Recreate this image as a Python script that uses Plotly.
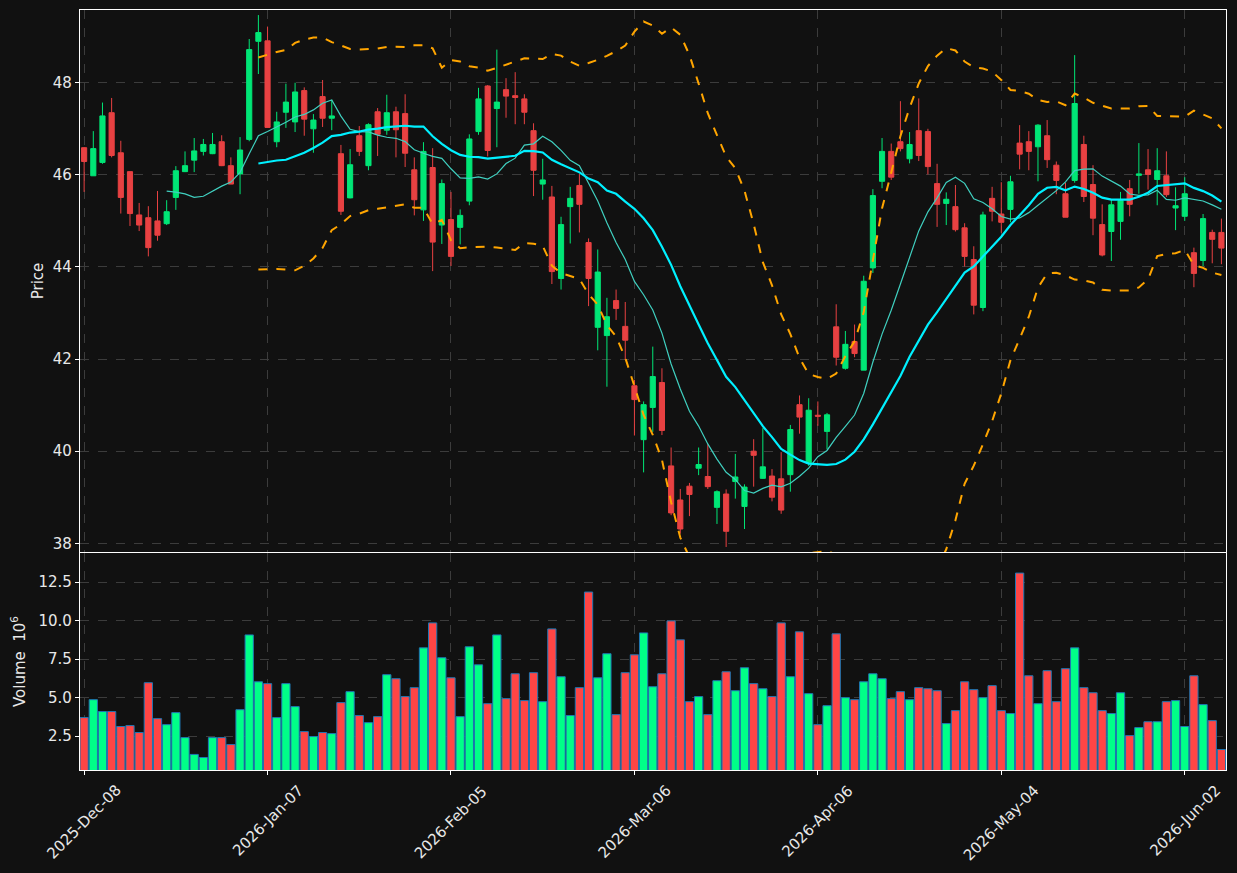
import numpy as np
import pandas as pd
import plotly.graph_objects as go

# ---- data ----
tick_labels = ["2025-Dec-08", "2026-Jan-07", "2026-Feb-05", "2026-Mar-06",
               "2026-Apr-06", "2026-May-04", "2026-Jun-02"]
tick_every = 20

opens = [46.59, 45.98, 46.27, 47.35, 46.48, 46.07, 45.13, 45.07, 45.00, 44.94,
         45.51, 46.07, 46.32, 46.51, 46.46, 46.72, 46.20, 46.02, 46.77, 48.90,
         48.91, 46.72, 47.36, 47.15, 47.83, 47.00, 47.70, 47.23, 46.46, 45.50,
         46.85, 46.20, 47.37, 46.97, 47.37, 47.33, 46.11, 45.24, 46.16, 44.91,
         45.03, 44.86, 45.43, 46.94, 47.93, 47.44, 47.85, 47.72, 47.65, 46.96,
         45.80, 45.52, 43.75, 45.31, 45.77, 44.53, 42.69, 42.51, 43.27, 42.71,
         41.42, 40.25, 40.95, 41.49, 39.68, 38.94, 39.24, 39.63, 39.45, 38.78,
         39.07, 39.34, 38.80, 40.00, 39.41, 39.46, 39.40, 39.49, 41.01, 39.74,
         40.78, 40.43, 42.70, 41.80, 42.38, 41.76, 43.98, 45.86, 46.51, 46.72,
         46.35, 46.96, 46.94, 45.81, 45.38, 45.31, 44.85, 44.16, 43.12, 45.49,
         45.15, 45.25, 46.69, 46.72, 46.61, 46.85, 46.21, 45.59, 45.88, 46.66,
         45.79, 44.92, 44.77, 44.99, 45.70, 45.99, 46.11, 45.90, 45.98, 45.28,
         45.10, 44.31, 44.14, 44.75, 44.75]
highs = [46.60, 46.95, 47.57, 47.67, 46.74, 46.07, 45.39, 45.32, 45.65, 45.45,
         46.19, 46.51, 46.80, 46.78, 46.91, 46.86, 46.38, 46.82, 48.95, 49.47,
         49.22, 47.37, 47.98, 48.00, 47.90, 47.32, 48.06, 47.63, 46.65, 46.56,
         47.06, 47.12, 47.45, 47.74, 47.48, 47.75, 46.38, 46.71, 46.58, 45.90,
         45.63, 45.25, 46.88, 47.89, 47.95, 48.72, 48.10, 48.23, 47.75, 47.12,
         46.35, 45.76, 45.09, 45.74, 46.02, 44.62, 44.38, 43.33, 43.51, 43.24,
         41.55, 41.08, 42.27, 41.80, 40.08, 39.18, 39.31, 40.08, 40.15, 39.15,
         39.17, 39.94, 39.28, 40.26, 40.50, 39.61, 39.98, 40.57, 41.21, 41.15,
         41.08, 40.83, 43.19, 42.61, 42.75, 43.81, 45.69, 46.80, 46.68, 47.60,
         46.93, 47.66, 47.00, 46.24, 45.62, 45.78, 44.95, 44.45, 45.20, 45.74,
         45.84, 45.98, 47.08, 46.95, 47.10, 47.19, 46.29, 45.83, 48.60, 46.85,
         46.21, 45.36, 45.46, 45.63, 45.89, 46.69, 46.56, 46.58, 46.51, 45.73,
         45.95, 44.42, 45.15, 44.81, 45.05]
lows = [45.63, 45.98, 46.24, 46.38, 45.16, 44.89, 44.78, 44.23, 44.57, 44.91,
        45.24, 46.06, 46.06, 46.42, 46.45, 46.19, 45.80, 45.58, 46.73, 48.19,
        47.03, 46.60, 47.02, 46.93, 46.85, 46.48, 47.04, 46.97, 45.13, 45.49,
        46.41, 46.10, 46.41, 46.87, 46.38, 46.17, 45.12, 45.00, 43.91, 44.50,
        44.02, 44.49, 45.34, 46.87, 46.40, 46.60, 47.24, 47.10, 47.10, 45.54,
        45.46, 43.63, 43.51, 44.51, 44.75, 43.15, 42.19, 41.40, 42.85, 41.98,
        40.34, 39.54, 40.42, 40.35, 38.61, 38.21, 38.59, 39.48, 39.18, 38.42,
        37.92, 38.97, 38.31, 39.23, 39.40, 38.91, 38.64, 39.12, 40.38, 39.68,
        40.55, 40.04, 41.86, 41.77, 42.04, 41.76, 43.87, 45.71, 45.89, 46.51,
        46.25, 46.30, 46.01, 44.87, 44.91, 44.77, 44.01, 42.97, 43.04, 44.99,
        44.74, 44.97, 46.12, 46.10, 45.86, 46.15, 45.58, 45.08, 45.83, 45.41,
        44.69, 44.23, 44.13, 44.59, 45.10, 45.59, 45.68, 45.34, 45.52, 44.80,
        45.00, 43.56, 44.02, 44.08, 44.06]
closes = [46.29, 46.57, 47.28, 46.42, 45.51, 45.16, 44.91, 44.42, 44.69, 45.20,
          46.09, 46.20, 46.52, 46.66, 46.66, 46.20, 45.80, 46.54, 48.72, 49.09,
          47.03, 47.15, 47.58, 47.80, 47.21, 47.19, 47.23, 47.28, 45.21, 46.22,
          46.51, 47.09, 46.88, 47.35, 46.98, 46.47, 45.46, 46.51, 44.54, 45.81,
          44.23, 45.12, 46.78, 47.65, 46.53, 47.58, 47.71, 47.68, 47.36, 46.10,
          45.89, 43.90, 44.92, 45.49, 45.36, 43.75, 43.89, 42.92, 43.10, 42.41,
          41.12, 41.01, 41.62, 40.45, 38.66, 38.31, 39.06, 39.71, 39.23, 39.12,
          38.26, 39.44, 39.22, 39.91, 39.66, 39.00, 38.72, 40.47, 40.74, 40.89,
          40.76, 40.79, 42.04, 42.32, 42.12, 43.69, 45.55, 46.51, 45.95, 46.57,
          46.66, 46.42, 46.18, 45.36, 45.47, 44.81, 44.23, 43.17, 45.13, 45.21,
          44.97, 45.85, 46.45, 46.51, 47.08, 46.33, 45.88, 45.08, 47.55, 45.53,
          45.06, 44.26, 45.35, 45.44, 45.36, 46.02, 46.01, 46.09, 45.57, 45.33,
          45.59, 43.86, 45.05, 44.60, 44.41]
volumes_m = [3.71, 4.87, 4.10, 4.10, 3.13, 3.19, 2.74, 5.97, 3.64, 3.25,
             4.03, 2.41, 1.32, 1.12, 2.41, 2.41, 1.96, 4.22, 9.07, 6.03,
             5.91, 3.71, 5.91, 4.42, 2.80, 2.48, 2.74, 2.67, 4.68, 5.39,
             3.84, 3.38, 3.77, 6.49, 6.23, 5.07, 5.65, 8.23, 9.85, 7.59,
             6.29, 3.77, 8.30, 7.13, 4.61, 9.07, 4.94, 6.55, 4.81, 6.62,
             4.74, 9.46, 6.36, 3.84, 5.65, 11.85, 6.29, 7.85, 3.90, 6.62,
             7.78, 9.20, 5.71, 6.55, 9.98, 8.75, 4.74, 5.07, 3.90, 6.10,
             6.68, 5.45, 6.94, 5.91, 5.58, 5.07, 9.85, 6.36, 9.27, 5.26,
             3.25, 4.48, 9.14, 5.00, 4.87, 6.03, 6.55, 6.23, 4.94, 5.39,
             4.87, 5.65, 5.58, 5.45, 3.32, 4.16, 6.03, 5.52, 5.00, 5.78,
             4.16, 3.97, 13.08, 6.42, 4.61, 6.75, 4.74, 6.88, 8.23, 5.65,
             5.32, 4.16, 3.97, 5.32, 2.54, 3.06, 3.44, 3.44, 4.74, 4.81,
             3.13, 6.42, 4.55, 3.51, 1.64]

# ---- derived indicators (as in the original: SMA10, SMA20, Bollinger 20/2) ----
n = len(closes)
x = np.arange(n)
cs = pd.Series(closes)
ma10 = cs.rolling(10).mean()
ma20 = cs.rolling(20).mean()
sd20 = cs.rolling(20).std(ddof=0)
bb_up = ma20 + 2 * sd20
bb_lo = ma20 - 2 * sd20

UP_C = "#00e676"
DN_C = "#e84142"
VUP_C = "#00ff88"
VDN_C = "#ff4545"
BG = "#111111"
GRID = "#3c3c3c"
TXT = "#e8e8e8"
FONT = "DejaVu Sans"

vol_colors = [VUP_C if c >= o else VDN_C for o, c in zip(opens, closes)]

fig = go.Figure()

fig.add_trace(go.Candlestick(
    x=x, open=opens, high=highs, low=lows, close=closes,
    increasing=dict(fillcolor=UP_C, line=dict(color=UP_C, width=1)),
    decreasing=dict(fillcolor=DN_C, line=dict(color=DN_C, width=1)),
    whiskerwidth=0, xaxis="x", yaxis="y", showlegend=False, hoverinfo="skip",
))
fig.add_trace(go.Scatter(x=x, y=bb_up, mode="lines",
                         line=dict(color="#ffa500", width=2, dash="dash"),
                         xaxis="x", yaxis="y", showlegend=False, hoverinfo="skip"))
fig.add_trace(go.Scatter(x=x, y=bb_lo, mode="lines",
                         line=dict(color="#ffa500", width=2, dash="dash"),
                         xaxis="x", yaxis="y", showlegend=False, hoverinfo="skip"))
fig.add_trace(go.Scatter(x=x, y=ma10, mode="lines",
                         line=dict(color="#40d0c0", width=1.2),
                         xaxis="x", yaxis="y", showlegend=False, hoverinfo="skip"))
fig.add_trace(go.Scatter(x=x, y=ma20, mode="lines",
                         line=dict(color="#00f0ff", width=2.2),
                         xaxis="x", yaxis="y", showlegend=False, hoverinfo="skip"))

fig.add_trace(go.Bar(x=x, y=volumes_m, marker=dict(color=vol_colors,
                     line=dict(color="#1f77b4", width=1)),
                     width=0.9, xaxis="x2", yaxis="y2", showlegend=False,
                     hoverinfo="skip"))

tickvals = [i * tick_every for i in range(len(tick_labels))]

axis_common = dict(
    showline=True, linecolor="#ffffff", linewidth=1.3, mirror=True,
    showgrid=True, gridcolor=GRID, griddash="dash", gridwidth=1,
    ticks="outside", ticklen=4, tickcolor="#ffffff", tickwidth=1,
    tickfont=dict(family=FONT, size=15, color=TXT), zeroline=False,
)

# x tick labels, rotated 45 degrees and centred under each tick (matplotlib style)
annotations = [
    dict(x=tv, y=0, xref="x2", yref="paper", text=lab, showarrow=False,
         textangle=-45, xanchor="center", yanchor="top", yshift=-9,
         font=dict(family=FONT, size=15, color=TXT))
    for tv, lab in zip(tickvals, tick_labels)
]

fig.update_layout(
    width=1237, height=873,
    paper_bgcolor=BG, plot_bgcolor=BG,
    margin=dict(l=80, r=11, t=10, b=103),
    boxgap=0.2,
    bargap=0.1,
    font=dict(family=FONT, color=TXT),
    annotations=annotations,
    xaxis=dict(axis_common, domain=[0, 1], anchor="y", range=[-0.45, 124.5],
               tickvals=tickvals, showticklabels=False,
               rangeslider=dict(visible=False), matches="x2"),
    yaxis=dict(axis_common, domain=[0.2868, 1], anchor="x", range=[37.81, 49.58],
               tickvals=[38, 40, 42, 44, 46, 48],
               title=dict(text="Price", font=dict(family=FONT, size=15, color=TXT),
                          standoff=5)),
    xaxis2=dict(axis_common, domain=[0, 1], anchor="y2", range=[-0.45, 124.5],
                tickvals=tickvals, showticklabels=False),
    yaxis2=dict(axis_common, domain=[0, 0.2855], anchor="x2", range=[0.31, 14.38],
                tickvals=[2.5, 5.0, 7.5, 10.0, 12.5], tickformat=".1f",
                title=dict(text="Volume  10<sup>6</sup>",
                           font=dict(family=FONT, size=15, color=TXT),
                           standoff=9)),
)

fig.write_html("out.html")
